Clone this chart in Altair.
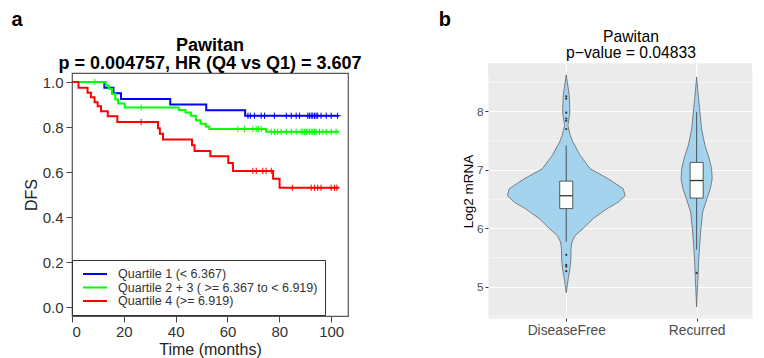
import altair as alt
import pandas as pd

FONT = "Liberation Sans"

# ---------------- Panel a: Kaplan-Meier (DFS) ----------------
km_groups = ["Quartile 1 (< 6.367)",
             "Quartile 2 + 3 ( >= 6.367 to < 6.919)",
             "Quartile 4 (>= 6.919)"]
km_colors = ["#0000FF", "#00FF00", "#FF0000"]

q1_time = [0, 12.5, 16.0, 18.9, 37.9, 51.8, 66.8, 102.9]
q1_surv = [1.0, 0.975, 0.95, 0.925, 0.90, 0.875, 0.85, 0.85]
q1_cens = [67.9, 68.8, 70.4, 73.0, 74.3, 78.1, 82.7, 84.6, 86.5, 87.8, 91.0,
           91.6, 92.3, 92.9, 93.6, 94.2, 94.8, 96.1, 98.1, 100.0, 102.5]

q23_time = [0, 13.0, 14.2, 15.4, 16.7, 17.8, 20.3, 41.2, 43.8, 45.9, 47.8,
            49.6, 51.6, 53.0, 74.9, 102.9]
q23_surv = [1.0, 0.985, 0.97, 0.947, 0.922, 0.905, 0.887, 0.876, 0.865, 0.85,
            0.83, 0.815, 0.802, 0.791, 0.779, 0.779]
q23_cens = [8.8, 26.7, 64.0, 66.6, 69.8, 71.1, 72.0, 73.0, 76.9, 78.1, 79.4,
            80.7, 82.7, 84.6, 86.5, 88.4, 89.1, 89.7, 90.4, 91.0, 91.6, 92.3,
            92.9, 93.6, 94.2, 95.5, 96.8, 98.1, 100.0, 101.9]

q4_time = [0, 2.5, 6.0, 7.3, 8.7, 9.9, 11.2, 13.8, 17.5, 33.2, 33.9, 35.1,
           46.3, 47.3, 53.4, 60.3, 62.1, 77.6, 80.1, 102.9]
q4_surv = [1.0, 0.975, 0.952, 0.932, 0.91, 0.892, 0.87, 0.848, 0.822, 0.795,
           0.77, 0.744, 0.719, 0.693, 0.67, 0.64, 0.605, 0.57, 0.53, 0.53]
q4_cens = [26.7, 69.8, 71.1, 73.6, 74.9, 76.9, 85.0, 92.3, 93.6, 94.8, 96.1,
           100.0, 101.3, 102.2]

x_ticks_a = [0, 20, 40, 60, 80, 100]
y_ticks_a = [0.0, 0.2, 0.4, 0.6, 0.8, 1.0]
title_a = ["Pawitan", "p = 0.004757, HR (Q4 vs Q1) = 3.607"]

# ---------------- Panel b: violin + box ----------------
cats = ["DiseaseFree", "Recurred"]
df_vals = [4.90, 5.14, 5.31, 5.48, 5.65, 5.77, 5.88, 6.00, 6.17, 6.34, 6.45,
           6.56, 6.68, 6.85, 7.02, 7.25, 7.48, 7.59, 7.76, 7.99, 8.27, 8.51, 8.63]
df_dens = [0.0, 0.015, 0.028, 0.036, 0.036, 0.044, 0.069, 0.130, 0.207, 0.314,
           0.399, 0.452, 0.437, 0.322, 0.184, 0.107, 0.051, 0.031, 0.013, 0.028,
           0.023, 0.008, 0.0]
rec_vals = [4.66, 5.14, 5.43, 5.71, 6.00, 6.28, 6.51, 6.68, 6.85, 7.02, 7.19,
            7.42, 7.70, 8.22, 8.59]
rec_dens = [0.0, 0.010, 0.015, 0.023, 0.033, 0.046, 0.079, 0.105, 0.119, 0.115,
            0.097, 0.064, 0.038, 0.015, 0.0]

box_lo = [5.77, 5.64]
box_q1 = [6.34, 6.52]
box_med = [6.56, 6.82]
box_q3 = [6.81, 7.13]
box_hi = [7.42, 7.99]
out_df = [5.27, 5.35, 5.38, 5.55, 7.70, 7.84, 7.88, 7.98, 8.22, 8.26]
out_rec = [5.24]

y_ticks_b = [5, 6, 7, 8]
y_minor_b = [4.5, 5.5, 6.5, 7.5, 8.5]
title_b = ["Pawitan", "p\u2212value = 0.04833"]
y_title_b = "Log2 mRNA"

# ---------------- build tables ----------------
def step_at(times, survs, t):
    s = survs[0]
    for ti, si in zip(times, survs):
        if ti <= t:
            s = si
    return s

curves = [(q1_time, q1_surv, q1_cens), (q23_time, q23_surv, q23_cens),
          (q4_time, q4_surv, q4_cens)]
line_rows, cens_rows = [], []
for g, col, (tt, ss, cc) in zip(km_groups, km_colors, curves):
    for t, s in zip(tt, ss):
        line_rows.append({"group": g, "time": t, "surv": s})
    for t in cc:
        cens_rows.append({"group": g, "col": col, "time": t,
                          "surv": step_at(tt, ss, t)})
line_df = pd.DataFrame(line_rows)
cens_df = pd.DataFrame(cens_rows)

vio_rows = []
for i, (vals, dens) in enumerate([(df_vals, df_dens), (rec_vals, rec_dens)]):
    for v, d in zip(vals, dens):
        vio_rows.append({"cat": cats[i], "v": v, "xl": i - d, "xr": i + d})
vio_df = pd.DataFrame(vio_rows)

BOX_HALF = 0.05
box_df = pd.DataFrame({
    "cat": cats, "c": [0, 1], "xl": [i - BOX_HALF for i in range(2)],
    "xr": [i + BOX_HALF for i in range(2)], "lo": box_lo, "q1": box_q1,
    "med": box_med, "q3": box_q3, "hi": box_hi})
out_tab = pd.DataFrame({"c": [0] * len(out_df) + [1] * len(out_rec),
                        "v": out_df + out_rec})
minor_df = pd.DataFrame({"v": y_minor_b})

text_one = pd.DataFrame({"k": [0]})


def label(txt, x, y, size, weight, align="center", angle=0, baseline="alphabetic"):
    return alt.Chart(text_one).mark_text(
        text=txt, align=align, baseline=baseline, font=FONT, fontSize=size,
        fontWeight=weight, color="black", angle=angle).encode(
        x=alt.value(x), y=alt.value(y))


# ---------------- panel a chart ----------------
A_W, A_H = 276, 243
xa = alt.Scale(domain=[0, 106.5], nice=False, zero=False)
ya = alt.Scale(domain=[-0.04, 1.04], nice=False, zero=False)

axis_common_a = dict(labelFont=FONT, labelFontSize=15, labelColor="#333",
                     tickColor="#444", tickSize=6, tickWidth=1, domain=False,
                     grid=False, titleFont=FONT, titleFontSize=16,
                     titleFontWeight="normal", titleColor="#222")
ax_ax = alt.Axis(values=x_ticks_a, title="Time (months)", labelPadding=2,
                 titlePadding=2, **axis_common_a)
ax_ay = alt.Axis(values=y_ticks_a, format=".1f", title="DFS", labelPadding=3,
                 titlePadding=3, **axis_common_a)

lines = alt.Chart(line_df).mark_line(interpolate="step-after", strokeWidth=2).encode(
    x=alt.X("time:Q", scale=xa, axis=ax_ax),
    y=alt.Y("surv:Q", scale=ya, axis=ax_ay),
    color=alt.Color("group:N", scale=alt.Scale(domain=km_groups, range=km_colors),
                    legend=alt.Legend(title=None, orient="none", legendX=0,
                                      legendY=187, direction="vertical",
                                      symbolType="stroke", symbolStrokeWidth=2,
                                      symbolSize=576, clipHeight=13,
                                      labelFont=FONT, labelFontSize=12.5,
                                      labelColor="#333", labelLimit=400,
                                      fillColor="white", strokeColor="#333",
                                      padding=7.5, rowPadding=0.5, labelOffset=10,
                                      symbolOffset=2.5)),
)

cens = alt.Chart(cens_df).mark_point(shape="M0,-1L0,1M-1,0L1,0", size=40,
                                     strokeWidth=1, filled=False, opacity=1).encode(
    x=alt.X("time:Q", scale=xa, axis=ax_ax),
    y=alt.Y("surv:Q", scale=ya, axis=ax_ay),
    color=alt.Color("col:N", scale=None),
)

a_layers = [lines, cens,
            label("a", -60.6, -47.3, 20, "bold", "left"),
            label(title_a[0], 138, -22.3, 18, "bold"),
            label(title_a[1], 138, -4.0, 18, "bold")]

panel_a = alt.layer(*a_layers).properties(
    width=A_W, height=A_H,
    view=alt.ViewBackground(fill="white", stroke="#555", strokeWidth=1.2),
)

# ---------------- panel b chart ----------------
B_W, B_H = 264, 245
B_UNIT = 130.4          # px per category step
B_PX_PER_Y = 58.5       # px per log2 unit
B_EXTRA = 9.7           # gray panel reaches this far above the aligned top
XB_DOM = [-0.6, -0.6 + B_W / B_UNIT]
YB_DOM = [4.47, 4.47 + B_H / B_PX_PER_Y]
YB_FULL_TOP = YB_DOM[1] + B_EXTRA / B_PX_PER_Y
xb = alt.Scale(domain=XB_DOM, nice=False, zero=False)
yb = alt.Scale(domain=YB_DOM, nice=False, zero=False)

ax_by = alt.Axis(values=y_ticks_b, title=None, labelFont=FONT,
                 labelFontSize=11.7, labelColor="#4D4D4D", tickColor="#333",
                 tickSize=3, labelPadding=2, domain=False, grid=True,
                 gridColor="white", gridWidth=1.1)
ax_bx = alt.Axis(values=[0, 1], title=None,
                 labelExpr="datum.value == 0 ? 'DiseaseFree' : 'Recurred'",
                 labelFont=FONT, labelFontSize=13.8, labelColor="#4D4D4D",
                 tickColor="#333", tickSize=3, labelPadding=2, domain=False,
                 grid=True, gridColor="white", gridWidth=1.1)

# top strip of the gray panel (the panel starts above the KM box)
EXT_LO = YB_DOM[1] - 0.06
ext_df = pd.DataFrame({"x0": [XB_DOM[0]], "x1": [XB_DOM[1]],
                       "y0": [EXT_LO], "y1": [YB_FULL_TOP]})
ext = alt.Chart(ext_df).mark_rect(color="#EBEBEB").encode(
    x=alt.X("x0:Q", scale=xb, axis=ax_bx), x2="x1:Q",
    y=alt.Y("y0:Q", scale=yb, axis=ax_by), y2="y1:Q")
ext_grid_df = pd.DataFrame({"c": [0, 1], "y0": [EXT_LO] * 2,
                            "y1": [YB_FULL_TOP] * 2})
ext_grid = alt.Chart(ext_grid_df).mark_rule(color="white", strokeWidth=1.1).encode(
    x=alt.X("c:Q", scale=xb, axis=ax_bx),
    y=alt.Y("y0:Q", scale=yb, axis=ax_by), y2="y1:Q")

minor = alt.Chart(minor_df).mark_rule(color="white", strokeWidth=0.6).encode(
    y=alt.Y("v:Q", scale=yb, axis=ax_by))

violin = alt.Chart(vio_df).mark_area(orient="horizontal", fill="#A4D3EE",
                                     stroke="#555", strokeWidth=0.7).encode(
    y=alt.Y("v:Q", scale=yb, axis=ax_by),
    x=alt.X("xl:Q", scale=xb, axis=ax_bx),
    x2="xr:Q",
    detail="cat:N",
)

whisk = alt.Chart(box_df).mark_rule(color="#333", strokeWidth=0.8).encode(
    x=alt.X("c:Q", scale=xb, axis=ax_bx), y=alt.Y("lo:Q", scale=yb, axis=ax_by),
    y2="hi:Q")
boxes = alt.Chart(box_df).mark_rect(fill="white", stroke="#333", strokeWidth=0.8).encode(
    x=alt.X("xl:Q", scale=xb, axis=ax_bx), x2="xr:Q",
    y=alt.Y("q1:Q", scale=yb, axis=ax_by), y2="q3:Q")
meds = alt.Chart(box_df).mark_rule(color="#333", strokeWidth=1.3).encode(
    x=alt.X("xl:Q", scale=xb, axis=ax_bx), x2="xr:Q",
    y=alt.Y("med:Q", scale=yb, axis=ax_by))
outs = alt.Chart(out_tab).mark_circle(color="#333", size=5, opacity=1).encode(
    x=alt.X("c:Q", scale=xb, axis=ax_bx), y=alt.Y("v:Q", scale=yb, axis=ax_by))

b_layers = [ext, ext_grid, minor, violin, whisk, boxes, meds, outs,
            label("b", -49.3, -47.3, 20, "bold", "left"),
            label(title_b[0], 143, -31.3, 15.7, "normal"),
            label(title_b[1], 143, -14.7, 15.7, "normal"),
            label(y_title_b, -19.5, 118.4, 13.5, "normal", angle=270,
                  baseline="middle")]

panel_b = alt.layer(*b_layers).properties(
    width=B_W, height=B_H,
    view=alt.ViewBackground(fill="#EBEBEB", stroke="transparent"),
)

chart = alt.hconcat(panel_a, panel_b, spacing=75).resolve_scale(
    x="independent", y="independent", color="independent"
).properties(
    padding={"left": 2, "top": 1, "right": 0, "bottom": 0},
    background="white",
)

chart.save("out.html", embed_options={"renderer": "svg", "actions": False})
